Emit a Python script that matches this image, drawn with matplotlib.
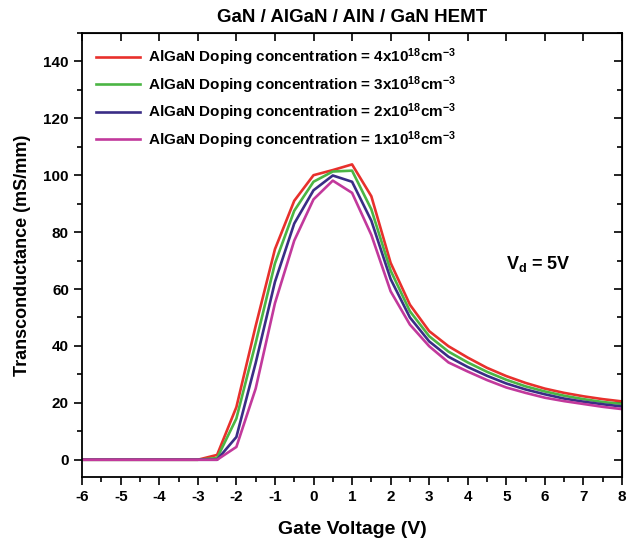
import matplotlib.pyplot as plt
import numpy as np
from matplotlib.ticker import MultipleLocator

plt.rcParams['font.family'] = ['Liberation Sans', 'DejaVu Sans']
plt.rcParams['font.weight'] = 'bold'
plt.rcParams['axes.unicode_minus'] = False
plt.rcParams['mathtext.fontset'] = 'custom'
plt.rcParams['mathtext.bf'] = 'Liberation Sans:bold'
plt.rcParams['mathtext.rm'] = 'Liberation Sans:bold'
plt.rcParams['mathtext.default'] = 'bf'

# gate voltage (V)
vg = [-6, -5.5, -5, -4.5, -4, -3.5, -3, -2.5, -2, -1.5, -1, -0.5, 0, 0.5, 1,
      1.5, 2, 2.5, 3, 3.5, 4, 4.5, 5, 5.5, 6, 6.5, 7, 7.5, 8]

# transconductance (mS/mm) for each AlGaN doping
gm_4e18 = [0, 0, 0, 0, 0, 0, 0, 1.7, 18.5, 47, 74, 91, 100, 101.8, 103.8,
           92.6, 69.2, 54.5, 45.2, 39.9, 35.9, 32.3, 29.4, 27, 25, 23.5, 22.3, 21.3, 20.5]
gm_3e18 = [0, 0, 0, 0, 0, 0, 0, 0.6, 14.5, 41, 69, 87.5, 97.7, 101.3, 101.6,
           88, 66.5, 52.2, 43.4, 38, 34.2, 30.9, 28.1, 25.8, 24, 22.5, 21.3, 20.3, 19.6]
gm_2e18 = [0, 0, 0, 0, 0, 0, 0, 0, 8, 34, 62.5, 83, 94.7, 99.9, 97.7,
           84, 63.5, 50, 41.6, 36.2, 32.6, 29.5, 26.8, 24.7, 23, 21.5, 20.4, 19.5, 18.7]
gm_1e18 = [0, 0, 0, 0, 0, 0, 0, 0, 4.5, 25, 55, 77, 91.5, 98.1, 93.8,
           79, 59.2, 47.5, 39.9, 34.2, 31, 28, 25.4, 23.5, 21.8, 20.6, 19.6, 18.6, 17.8]

labels = ['AlGaN Doping concentration = 4x10$^{18}$cm$^{-3}$',
          'AlGaN Doping concentration = 3x10$^{18}$cm$^{-3}$',
          'AlGaN Doping concentration = 2x10$^{18}$cm$^{-3}$',
          'AlGaN Doping concentration = 1x10$^{18}$cm$^{-3}$']
colors = ['#e8302c', '#4bb544', '#3a2d86', '#c2399c']

fig = plt.figure(figsize=(6.27, 5.40), dpi=100)
ax = fig.add_axes([0.131, 0.117, 0.861, 0.822])

for gm, lab, c in zip([gm_4e18, gm_3e18, gm_2e18, gm_1e18], labels, colors):
    ax.plot(vg, gm, color=c, lw=1.9, label=lab)

ax.set_xlim(-6, 8)
ax.set_ylim(-6, 150)
ax.xaxis.set_major_locator(MultipleLocator(1))
ax.xaxis.set_minor_locator(MultipleLocator(0.5))
ax.yaxis.set_minor_locator(MultipleLocator(10))
ax.set_yticks(np.arange(0, 141, 20))
ax.tick_params(which='major', direction='out', length=6, width=1.2, labelsize=11)
ax.tick_params(which='minor', direction='out', length=3.5, width=1.2)
for s in ax.spines.values():
    s.set_linewidth(1.3)

# mirrored ticks pointing in on top and right
top = ax.secondary_xaxis('top')
top.xaxis.set_major_locator(MultipleLocator(1))
top.tick_params(direction='in', length=6, width=1.2, labeltop=False)
right = ax.secondary_yaxis('right')
right.yaxis.set_major_locator(MultipleLocator(20))
right.yaxis.set_minor_locator(MultipleLocator(10))
right.tick_params(which='major', direction='in', length=6, width=1.2, labelright=False)
right.tick_params(which='minor', direction='in', length=3.5, width=1.2)

ax.set_xlabel('Gate Voltage (V)', fontsize=14, fontweight='bold', labelpad=12)
ax.set_ylabel('Transconductance (mS/mm)', fontsize=13, fontweight='bold', labelpad=9)
ax.set_title('GaN / AlGaN / AlN / GaN HEMT', fontsize=13.5, fontweight='bold', pad=8)

ax.text(5.0, 67, 'V$_{d}$ = 5V', fontsize=13, fontweight='bold')

ax.legend(loc='upper left', frameon=False, fontsize=11, handlelength=2.9,
          labelspacing=0.38, borderaxespad=0.5, handletextpad=0.5)

fig.savefig('out.png', dpi=100)
